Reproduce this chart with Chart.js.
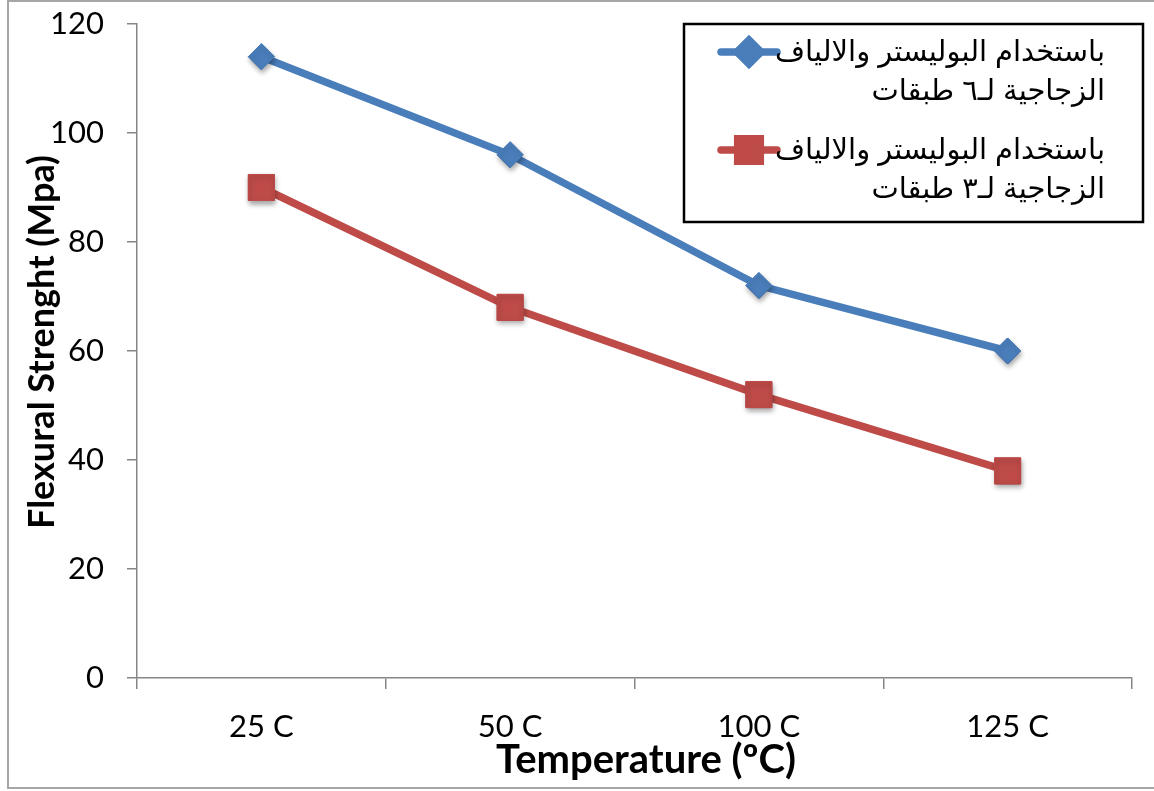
<!DOCTYPE html>
<html>
<head>
<meta charset="utf-8">
<script src="https://cdn.jsdelivr.net/npm/chart.js@4/dist/chart.umd.min.js"></script>
<style>
  html, body { margin: 0; padding: 0; background: #fff; }
  #wrap { position: relative; width: 1154px; height: 791px; }
</style>
</head>
<body>
<div id="wrap"><canvas id="chart" width="1154" height="791"></canvas></div>
<script>
// Temperatures tested
const categories = ['25 C', '50 C', '100 C', '125 C'];
// Flexural strength (MPa), six-layer glass fibre / polyester
const sixLayers = [114, 96, 72, 60];
// Flexural strength (MPa), three-layer glass fibre / polyester
const threeLayers = [90, 68, 52, 38];
// Legend captions, two lines each
const sixLabel = ['باستخدام البوليستر والالياف', 'الزجاجية لـ٦ طبقات'];
const threeLabel = ['باستخدام البوليستر والالياف', 'الزجاجية لـ٣ طبقات'];
// Axis titles
const xTitle = 'Temperature (ºC)';
const yTitle = 'Flexural Strenght (Mpa)';
// Value axis range
const yMin = 0, yMax = 120, yStep = 20;

const BLUE = '#4a7ebb';
const RED = '#be4b48';
const AXIS = '#868686';
const LATIN = 'Lato, "Open Sans", sans-serif';
const ARABIC = '"Liberation Sans", "DejaVu Sans", sans-serif';

// Outer frame of the chart
const framePlugin = {
  id: 'frame',
  beforeDraw(chart) {
    const ctx = chart.ctx;
    ctx.save();
    ctx.fillStyle = '#fff';
    ctx.fillRect(0, 0, chart.width, chart.height);
    ctx.strokeStyle = '#a6a6a6';
    ctx.lineWidth = 2;
    ctx.strokeRect(8, 1, chart.width + 20, 787);
    ctx.restore();
  }
};

// Axis titles, placed beside the axes
const axisTitles = {
  id: 'axisTitles',
  afterDraw(chart) {
    const ctx = chart.ctx;
    ctx.save();
    ctx.fillStyle = '#000';
    ctx.font = 'bold 40px ' + LATIN;
    ctx.textAlign = 'center';
    ctx.textBaseline = 'alphabetic';
    ctx.fillText(xTitle, 646, 773);
    ctx.translate(54, 342);
    ctx.rotate(-Math.PI / 2);
    ctx.font = 'bold 36px ' + LATIN;
    ctx.fillText(yTitle, 0, 0);
    ctx.restore();
  }
};

// Soft drop shadow under the markers
const markerShadow = {
  id: 'markerShadow',
  afterDatasetsDraw(chart) {
    const ctx = chart.ctx;
    chart.data.datasets.forEach((ds, i) => {
      const meta = chart.getDatasetMeta(i);
      ctx.save();
      ctx.shadowColor = 'rgba(0,0,0,0.35)';
      ctx.shadowBlur = 5;
      ctx.shadowOffsetX = 1;
      ctx.shadowOffsetY = 3;
      meta.data.forEach(p => p.draw(ctx, chart.chartArea));
      ctx.restore();
    });
  }
};

// Boxed legend with right-to-left captions
const boxLegend = {
  id: 'boxLegend',
  afterDraw(chart) {
    const ctx = chart.ctx;
    const box = { x: 684, y: 24, w: 459, h: 198 };
    ctx.save();
    ctx.strokeStyle = '#000';
    ctx.lineWidth = 2.5;
    ctx.strokeRect(box.x, box.y, box.w, box.h);
    chart.data.datasets.forEach((ds, i) => {
      const y0 = 52 + i * 98;
      ctx.strokeStyle = ds.borderColor;
      ctx.lineWidth = 7.5;
      ctx.lineCap = 'round';
      ctx.beginPath();
      ctx.moveTo(721, y0);
      ctx.lineTo(777, y0);
      ctx.stroke();
      ctx.fillStyle = ds.pointBackgroundColor;
      ctx.strokeStyle = ds.pointBackgroundColor;
      Chart.helpers.drawPoint(ctx, {
        pointStyle: ds.pointStyle,
        rotation: 0,
        radius: ds.pointStyle === 'rect' ? 16 : 12,
        borderWidth: 1
      }, 749, y0);
      ctx.fillStyle = '#000';
      ctx.font = '29px ' + ARABIC;
      ctx.direction = 'rtl';
      ctx.textAlign = 'right';
      ctx.textBaseline = 'middle';
      ds.caption.forEach((line, k) => {
        ctx.fillText(line, 1105, y0 + 1 + k * 39);
      });
    });
    ctx.restore();
  }
};

new Chart(document.getElementById('chart'), {
  type: 'line',
  data: {
    labels: categories,
    datasets: [
      {
        label: sixLabel.join(' '),
        caption: sixLabel,
        data: sixLayers,
        borderColor: BLUE,
        backgroundColor: BLUE,
        pointBackgroundColor: BLUE,
        pointBorderColor: BLUE,
        borderWidth: 7.5,
        pointStyle: 'rectRot',
        pointRadius: 13,
        pointBorderWidth: 1,
        tension: 0
      },
      {
        label: threeLabel.join(' '),
        caption: threeLabel,
        data: threeLayers,
        borderColor: RED,
        backgroundColor: RED,
        pointBackgroundColor: RED,
        pointBorderColor: RED,
        borderWidth: 7.5,
        pointStyle: 'rect',
        pointRadius: 18.4,
        pointBorderWidth: 1,
        tension: 0
      }
    ]
  },
  options: {
    responsive: false,
    animation: false,
    events: [],
    layout: { padding: { top: 24, right: 22, left: 0, bottom: 0 } },
    plugins: {
      legend: { display: false },
      tooltip: { enabled: false }
    },
    scales: {
      x: {
        offset: true,
        border: { color: AXIS, width: 1.5 },
        grid: { offset: true, drawOnChartArea: false, drawTicks: true, tickLength: 11, color: AXIS, lineWidth: 1.5 },
        ticks: { color: '#000', font: { family: LATIN, size: 31 }, padding: 19, maxRotation: 0 },
        title: { display: false },
        afterFit(scale) {
          scale.height = 113;
          scale.paddingLeft = 0;
          scale.paddingRight = 0;
        }
      },
      y: {
        min: yMin,
        max: yMax,
        border: { color: AXIS, width: 1.5 },
        grid: { drawOnChartArea: false, drawTicks: true, tickLength: 10, color: AXIS, lineWidth: 1.5 },
        ticks: { stepSize: yStep, color: '#000', font: { family: LATIN, size: 31 }, padding: 23 },
        title: { display: false },
        afterFit(scale) {
          scale.width = 137;
          scale.paddingTop = 0;
          scale.paddingBottom = 0;
        }
      }
    }
  },
  plugins: [framePlugin, markerShadow, boxLegend, axisTitles]
});
</script>
</body>
</html>
